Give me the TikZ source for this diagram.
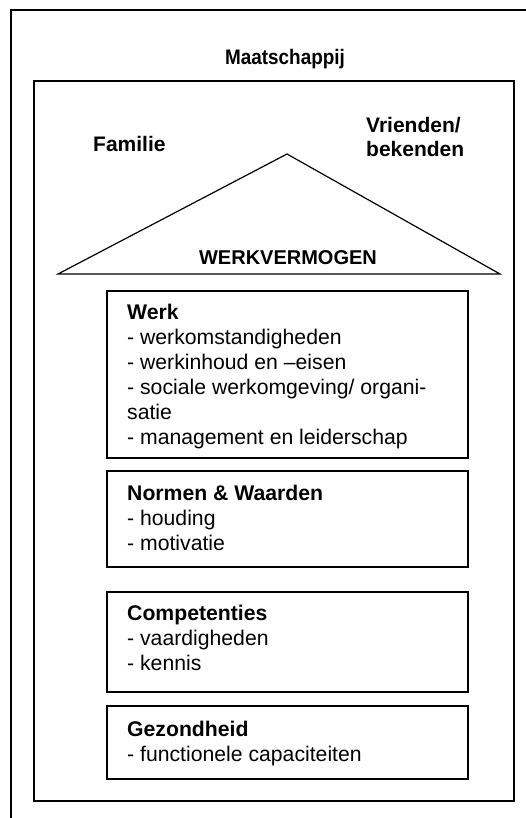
\documentclass[tikz,border=0pt]{standalone}
\usepackage{fontspec}
\setmainfont{Liberation Sans}
\usepackage{graphicx}
\tikzset{
    frame/.style={line width=1.6pt},
    panel/.style={draw, line width=1.6pt, anchor=north west, inner sep=0pt,
                  minimum width=361pt},
    paneltext/.style={anchor=base west, inner sep=0pt, align=left,
                      font=\fontsize{21.2}{25}\selectfont},
    heading/.style={inner sep=0pt, font=\fontsize{21}{24}\selectfont\bfseries}
}
\begin{document}
\begin{tikzpicture}[x=1pt,y=-1pt]
    \useasboundingbox (0,0) rectangle (526,818);
    % outer frame, society
    \draw[frame] (11,818) -- (11,10) -- (526,10);
    \node[heading, anchor=base] (society) at (285,65) {\scalebox{0.9}[1]{Maatschappij}};
    \draw[frame] (34,81) rectangle (514,801);
    \node[heading, anchor=base west] (family) at (93,152) {Familie};
    \node[heading, anchor=base west, align=left] (friends) at (366,157) {Vrienden/\\bekenden};
    % roof
    \coordinate (roofL) at (58,274);
    \coordinate (roofT) at (287,154);
    \coordinate (roofR) at (500,274);
    \draw[line width=1.2pt, line join=miter] (roofL) -- (roofT) -- (roofR) -- cycle;
    \node[heading, anchor=base, font=\fontsize{20}{24}\selectfont\bfseries] (capacity) at (288,264) {WERKVERMOGEN};
    % floors (text anchored at the baseline of its last line)
    \node[panel, minimum height=167pt] (work) at (106,290) {};
    \node[paneltext] (worktext) at ([xshift=21pt,yshift=-154pt]work.north west)
        {\textbf{Werk}\\- werkomstandigheden\\- werkinhoud en –eisen\\- sociale werkomgeving/ organi-\\satie\\- management en leiderschap};
    \node[panel, minimum height=96pt] (norms) at (106,470) {};
    \node[paneltext] (normstext) at ([xshift=21pt,yshift=-80pt]norms.north west)
        {\textbf{Normen \& Waarden}\\- houding\\- motivatie};
    \node[panel, minimum height=100pt] (skills) at (106,591) {};
    \node[paneltext] (skillstext) at ([xshift=21pt,yshift=-79pt]skills.north west)
        {\textbf{Competenties}\\- vaardigheden\\- kennis};
    \node[panel, minimum height=73pt] (health) at (106,705) {};
    \node[paneltext] (healthtext) at ([xshift=21pt,yshift=-56pt]health.north west)
        {\textbf{Gezondheid}\\- functionele capaciteiten};
\end{tikzpicture}
\end{document}
